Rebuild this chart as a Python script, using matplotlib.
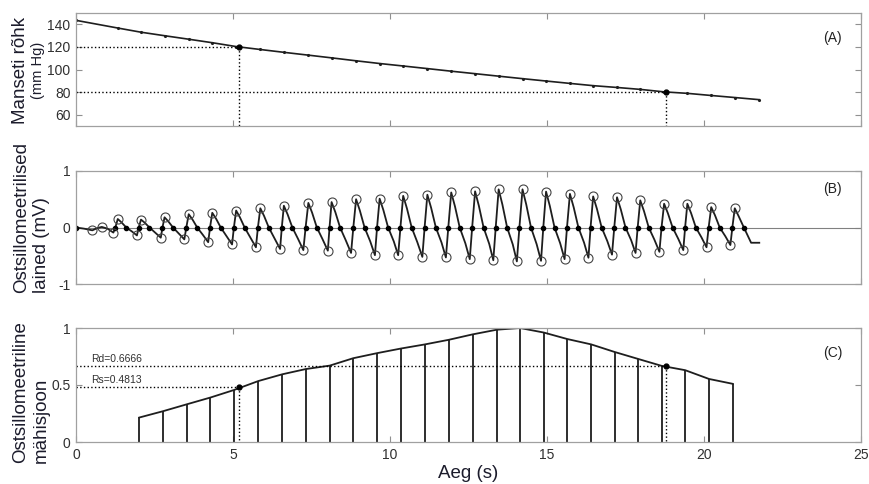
import numpy as np
import matplotlib.pyplot as plt

plt.rcParams['font.family'] = ['Liberation Sans', 'DejaVu Sans']
plt.rcParams['axes.unicode_minus'] = False

# (A) manseti rõhk löökide kohtadel
p_t = [0.0, 1.33, 2.07, 2.82, 3.59, 4.34, 5.10, 5.87, 6.62, 7.40, 8.14, 8.92, 9.67,
       10.42, 11.19, 11.95, 12.71, 13.46, 14.22, 14.97, 15.73, 16.47, 17.23, 17.97,
       18.73, 19.47, 20.23, 20.98, 21.76]
p_val = [143.5, 136.7, 133.0, 129.9, 126.8, 123.7, 120.3, 117.7, 115.2, 112.7, 110.3,
         107.7, 105.3, 103.1, 100.8, 98.5, 96.3, 94.1, 91.9, 89.8, 87.7, 85.7, 84.1,
         82.4, 80.2, 78.9, 77.0, 75.2, 73.3]
sys_t, sys_p = 5.18, 120
dia_t, dia_p = 18.78, 80

# (B) ostsillomeetrilised lained
early_t = [0.0, 0.25, 0.52, 0.68, 0.82, 1.0]
early_v = [0.0, -0.02, -0.05, -0.01, 0.01, -0.02]
trough_t = [1.19, 1.94, 2.70, 3.45, 4.21, 4.97, 5.73, 6.50, 7.24, 8.02, 8.76, 9.52,
            10.26, 11.03, 11.78, 12.54, 13.29, 14.04, 14.81, 15.56, 16.32, 17.07,
            17.82, 18.58, 19.34, 20.08, 20.84]
trough_v = [-0.09, -0.14, -0.18, -0.21, -0.26, -0.30, -0.35, -0.38, -0.40, -0.41,
            -0.45, -0.49, -0.49, -0.52, -0.53, -0.56, -0.58, -0.60, -0.59, -0.56,
            -0.535, -0.48, -0.45, -0.43, -0.40, -0.35, -0.31]
peak_t = [1.33, 2.07, 2.82, 3.59, 4.34, 5.10, 5.87, 6.62, 7.40, 8.14, 8.92, 9.67,
          10.42, 11.19, 11.95, 12.71, 13.46, 14.22, 14.97, 15.73, 16.47, 17.23,
          17.97, 18.73, 19.47, 20.23, 20.98]
peak_v = [0.15, 0.14, 0.18, 0.235, 0.26, 0.30, 0.34, 0.385, 0.435, 0.45, 0.50, 0.51,
          0.56, 0.58, 0.62, 0.64, 0.675, 0.675, 0.635, 0.595, 0.55, 0.535, 0.48,
          0.42, 0.42, 0.36, 0.34]
early_circ_t = [0.52, 0.82]
early_circ_v = [-0.05, 0.01]
tail_t = [21.27, 21.5, 21.76]
tail_v = [0.0, -0.27, -0.27]

# (C) ostsillomeetriline mähisjoon
env_t = [2.02, 2.77, 3.52, 4.28, 5.03, 5.81, 6.57, 7.32, 8.08, 8.83, 9.60, 10.35,
         11.11, 11.88, 12.63, 13.40, 14.14, 14.90, 15.65, 16.41, 17.15, 17.91,
         18.65, 19.40, 20.16, 20.92]
env_v = [0.215, 0.27, 0.33, 0.39, 0.456, 0.535, 0.594, 0.64, 0.67, 0.735, 0.78, 0.82,
         0.856, 0.897, 0.944, 0.985, 1.0, 0.96, 0.903, 0.856, 0.79, 0.728, 0.668,
         0.63, 0.553, 0.51]
Rs = 0.4813
Rd = 0.6666

# lainekuju kokku
wt, wv = list(early_t), list(early_v)
cross_t = [0.0]
for i in range(len(peak_t)):
    tr, pk = trough_t[i], peak_t[i]
    c = tr + 0.45 * (pk - tr)
    wt += [tr, c, pk, pk + 0.06, pk + 0.12]
    wv += [trough_v[i], 0.0, peak_v[i], 0.8 * peak_v[i], 0.6 * peak_v[i]]
    cross_t.append(c)
    if i + 1 < len(peak_t):
        wt += [pk + 0.27, pk + 0.45]
        wv += [0.0, 0.5 * trough_v[i + 1]]
        cross_t.append(pk + 0.27)
wt += tail_t
wv += tail_v
cross_t.append(tail_t[0])

fig = plt.figure(figsize=(8.7, 4.84), dpi=100)
L, W = 76 / 870, 785 / 870
axA = fig.add_axes([L, 1 - 126 / 484, W, 113 / 484])
axB = fig.add_axes([L, 1 - 284 / 484, W, 113 / 484])
axC = fig.add_axes([L, 1 - 442 / 484, W, 114 / 484])

lc = '#1e1e1e'
for ax in (axA, axB, axC):
    ax.set_xlim(0, 25)
    ax.set_xticks([0, 5, 10, 15, 20, 25])
    ax.tick_params(direction='in', top=True, right=True, length=4, width=0.8,
                   color='#909090', labelcolor='#303030', labelsize=10, pad=4)
    for s in ax.spines.values():
        s.set_color('#a0a0a0')
        s.set_linewidth(0.9)
axA.tick_params(labelbottom=False)
axB.tick_params(labelbottom=False)

# A
axA.set_ylim(50, 150)
axA.set_yticks([60, 80, 100, 120, 140])
axA.plot(p_t, p_val, color=lc, lw=1.2, marker='.', ms=2.5)
axA.plot([0, sys_t], [sys_p, sys_p], ':', color='k', lw=1)
axA.plot([sys_t, sys_t], [sys_p, 50], ':', color='k', lw=1)
axA.plot([0, dia_t], [dia_p, dia_p], ':', color='k', lw=1)
axA.plot([dia_t, dia_t], [dia_p, 50], ':', color='k', lw=1)
axA.plot([sys_t, dia_t], [sys_p, dia_p], 'o', color='k', ms=3.5, ls='none')
axA.text(0.964, 0.78, '(A)', transform=axA.transAxes, ha='center', va='center',
         fontsize=10, color='#222222')

# B
axB.set_ylim(-1, 1)
axB.set_yticks([-1, 0, 1])
axB.axhline(0, color='#808080', lw=0.8)
axB.plot(wt, wv, color=lc, lw=1.3)
axB.plot(cross_t, np.zeros(len(cross_t)), 'o', color='k', ms=3, ls='none')
axB.plot(peak_t + trough_t + early_circ_t, peak_v + trough_v + early_circ_v, 'o',
         mfc='none', mec='#444444', mew=0.8, ms=6.5, ls='none')
axB.text(0.964, 0.84, '(B)', transform=axB.transAxes, ha='center', va='center',
         fontsize=10, color='#222222')

# C
axC.set_ylim(0, 1)
axC.set_yticks([0, 0.5, 1])
axC.set_yticklabels(['0', '0.5', '1'])
axC.vlines(env_t, 0, env_v, color=lc, lw=1.3)
axC.plot(env_t, env_v, color=lc, lw=1.3)
axC.plot([0, sys_t], [Rs, Rs], ':', color='k', lw=1)
axC.plot([sys_t, sys_t], [Rs, 0], ':', color='k', lw=1)
axC.plot([0, dia_t], [Rd, Rd], ':', color='k', lw=1)
axC.plot([dia_t, dia_t], [Rd, 0], ':', color='k', lw=1)
axC.plot([sys_t, dia_t], [Rs, Rd], 'o', color='k', ms=3.5, ls='none')
axC.text(0.47, Rd + 0.015, 'Rd=%.4f' % Rd, fontsize=7.5, color='#303030', va='bottom')
axC.text(0.47, Rs + 0.015, 'Rs=%.4f' % Rs, fontsize=7.5, color='#303030', va='bottom')
axC.text(0.964, 0.78, '(C)', transform=axC.transAxes, ha='center', va='center',
         fontsize=10, color='#222222')

# telgede nimed
tc = '#1c1c2c'
fig.text(21 / 870, 1 - 70 / 484, 'Manseti rõhk', rotation=90, ha='center', va='center',
         fontsize=13.5, color=tc)
fig.text(38 / 870, 1 - 70 / 484, '(mm Hg)', rotation=90, ha='center', va='center',
         fontsize=10.5, color=tc)
fig.text(22 / 870, 1 - 293 / 484, 'Ostsillomeetrilised', rotation=90, ha='center',
         va='bottom', fontsize=13.5, color=tc)
fig.text(42 / 870, 1 - 293 / 484, 'lained (mV)', rotation=90, ha='center',
         va='bottom', fontsize=13.5, color=tc)
fig.text(21 / 870, 1 - 463 / 484, 'Ostsillomeetriline', rotation=90, ha='center',
         va='bottom', fontsize=13.5, color=tc)
fig.text(41 / 870, 1 - 463 / 484, 'mähisjoon', rotation=90, ha='center',
         va='bottom', fontsize=13.5, color=tc)
fig.text(468 / 870, 1 - 465 / 484, 'Aeg (s)', ha='center', va='top', fontsize=13.5,
         color=tc)

fig.savefig('out.png', dpi=100)
